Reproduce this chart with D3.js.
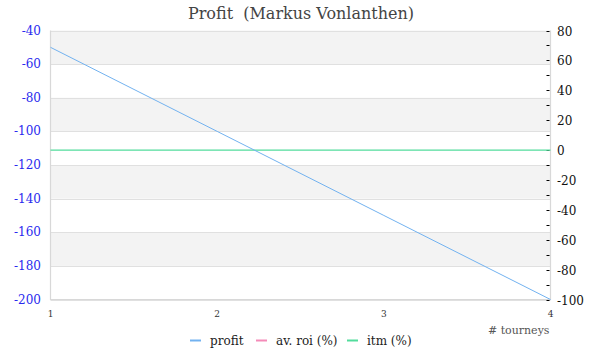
<!DOCTYPE html>
<html>
<head>
<meta charset="utf-8">
<script src="https://cdn.jsdelivr.net/npm/d3@7"></script>
<style>
  body { margin: 0; background: #fff; }
  text { font-family: 'DejaVu Serif', serif; white-space: pre; }
</style>
</head>
<body>
<div class="chart"></div>
<script>
const tourneys = [1, 2, 3, 4];
const profit = [-50, -100, -150, -200];
const avRoi = [-100, -100, -100, -100];
const itm = [0, 0, 0, 0];

const leftTicks = [-40, -60, -80, -100, -120, -140, -160, -180, -200];
const rightTicks = [80, 60, 40, 20, 0, -20, -40, -60, -80, -100];

const series = [
  { name: 'profit', values: profit, axis: 'left', color: '#72b2f0' },
  { name: 'av. roi (%)', values: avRoi, axis: 'right', color: '#f48bb8' },
  { name: 'itm (%)', values: itm, axis: 'right', color: '#52dc9c' },
];

const width = 600, height = 360;
const plot = { left: 50.5, right: 550.5, top: 30.5, bottom: 299.5 };

const svg = d3.select('.chart').append('svg')
  .attr('width', width)
  .attr('height', height);

const x = d3.scaleLinear().domain([1, 4]).range([plot.left, plot.right]);
const yLeft = d3.scaleLinear().domain([-200, -40]).range([plot.bottom, plot.top]);
const yRight = d3.scaleLinear().domain([-100, 80]).range([plot.bottom, plot.top]);

const lineFor = s => d3.line()
  .x((_d, i) => x(tourneys[i]))
  .y(d => (s.axis === 'left' ? yLeft(d) : yRight(d)));

const drawSeries = (s, w) => {
  svg.append('path')
    .attr('d', lineFor(s)(s.values))
    .attr('fill', 'none')
    .attr('stroke', s.color)
    .attr('stroke-width', w);
};

// alternating bands, top band shaded
for (let i = 0; i < leftTicks.length - 1; i++) {
  if (i % 2 !== 0) continue;
  svg.append('rect')
    .attr('x', plot.left)
    .attr('y', yLeft(leftTicks[i]))
    .attr('width', plot.right - plot.left)
    .attr('height', yLeft(leftTicks[i + 1]) - yLeft(leftTicks[i]))
    .attr('fill', '#f3f3f3');
}

// grid lines
svg.append('g').selectAll('line')
  .data(leftTicks)
  .enter()
  .append('line')
  .attr('x1', plot.left)
  .attr('x2', plot.right)
  .attr('y1', d => Math.round(yLeft(d)) + 0.5)
  .attr('y2', d => Math.round(yLeft(d)) + 0.5)
  .attr('stroke', '#e0e0e0');

// roi sits on the bottom edge, hidden under the frame
drawSeries(series[1], 1);

// frame: left, bottom, right
svg.append('path')
  .attr('d', `M${plot.left},${plot.top}V${plot.bottom}H${plot.right}V${plot.top}`)
  .attr('fill', 'none')
  .attr('stroke', '#d8d8d8')
  .attr('stroke-width', 1.2);

// left axis labels
svg.append('g').selectAll('text')
  .data(leftTicks)
  .enter()
  .append('text')
  .attr('x', 41)
  .attr('y', d => yLeft(d) + 4)
  .attr('text-anchor', 'end')
  .attr('fill', '#2a2aee')
  .attr('font-size', '12px')
  .text(d => d);

// right axis minor ticks every 10
const rightMinor = d3.range(-100, 81, 10);
svg.append('g').selectAll('line')
  .data(rightMinor)
  .enter()
  .append('line')
  .attr('x1', plot.right - 4)
  .attr('x2', plot.right - 1)
  .attr('y1', d => Math.round(yRight(d)) + 0.5)
  .attr('y2', d => Math.round(yRight(d)) + 0.5)
  .attr('stroke', '#000');

svg.append('g').selectAll('text')
  .data(rightTicks)
  .enter()
  .append('text')
  .attr('x', 557)
  .attr('y', d => yRight(d) + 5)
  .attr('fill', '#111')
  .attr('font-size', '12px')
  .text(d => d);

// x axis labels
svg.append('g').selectAll('text')
  .data(tourneys)
  .enter()
  .append('text')
  .attr('x', d => x(d))
  .attr('y', 317)
  .attr('text-anchor', 'middle')
  .attr('fill', '#333')
  .attr('font-size', '9px')
  .text(d => d);

svg.append('text')
  .attr('x', plot.right - 1)
  .attr('y', 334)
  .attr('text-anchor', 'end')
  .attr('fill', '#555')
  .attr('font-size', '11px')
  .text('# tourneys');

drawSeries(series[2], 1.3);
drawSeries(series[0], 1);

// title
svg.append('text')
  .attr('x', 301)
  .attr('y', 19)
  .attr('text-anchor', 'middle')
  .attr('fill', '#444')
  .attr('font-size', '16px')
  .text('Profit  (Markus Vonlanthen)');

// legend
const legendX = [190, 256, 347];
const legend = svg.append('g').selectAll('g')
  .data(series)
  .enter()
  .append('g')
  .attr('transform', (_d, i) => `translate(${legendX[i]},341)`);

legend.append('line')
  .attr('x1', 0)
  .attr('x2', 11)
  .attr('y1', -0.5)
  .attr('y2', -0.5)
  .attr('stroke', d => d.color)
  .attr('stroke-width', 2);

legend.append('text')
  .attr('x', 20)
  .attr('y', 4)
  .attr('fill', '#222')
  .attr('font-size', '12px')
  .text(d => d.name);
</script>
</body>
</html>
